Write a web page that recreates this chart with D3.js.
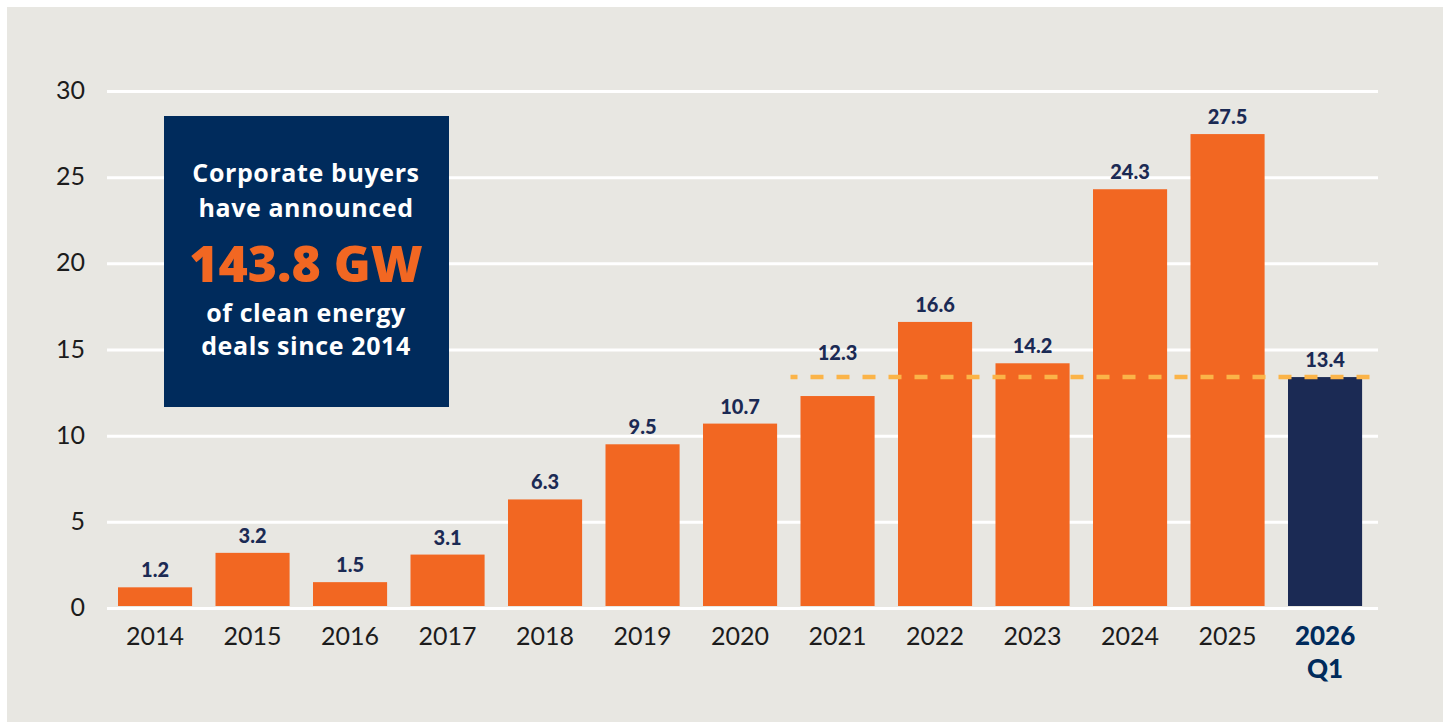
<!DOCTYPE html>
<html>
<head>
<meta charset="utf-8">
<script src="https://cdn.jsdelivr.net/npm/d3@7"></script>
<style>
  body { margin: 0; background: #ffffff; }
  .container { width: 1450px; height: 723px; }
  text { font-family: "Lato", "Open Sans", sans-serif; }
  .box-text { font-family: "Open Sans", "Lato", sans-serif; }
</style>
</head>
<body>
<div class="container"></div>
<script>
const categories = ["2014", "2015", "2016", "2017", "2018", "2019", "2020", "2021", "2022", "2023", "2024", "2025", "2026 Q1"];
const values = [1.2, 3.2, 1.5, 3.1, 6.3, 9.5, 10.7, 12.3, 16.6, 14.2, 24.3, 27.5, 13.4];
const yTicks = [0, 5, 10, 15, 20, 25, 30];
const refValue = 13.4; // dashed line level (Q1 2026)
const boxLines = ["Corporate buyers", "have announced", "143.8 GW", "of clean energy", "deals since 2014"];

const w = 1450;
const h = 723;

const orange = "#f26722";
const navy = "#1b2a54";
const boxNavy = "#002b5c";
const labelNavy = "#1b2a54";

const svg = d3.select(".container")
              .append("svg")
              .attr("width", w)
              .attr("height", h)

// panel background
svg.append("rect")
   .attr("x", 7)
   .attr("y", 7)
   .attr("width", w - 14)
   .attr("height", h - 8)
   .attr("fill", "#e8e7e2")

const xScale = d3.scaleBand()
                 .domain(categories)
                 .range([106.3, 1373.8])
                 .paddingInner(0.24)
                 .paddingOuter(0.12)

const yScale = d3.scaleLinear()
                 .domain([0, 30])
                 .range([608, 91])

// y axis + gridlines
const yAxis = d3.axisLeft(yScale)
                .tickValues(yTicks)
                .tickSizeInner(-(1378 - 107))
                .tickSizeOuter(0)
                .tickPadding(22)

const gy = svg.append("g")
              .attr("id", "y-axis")
              .attr("transform", "translate(107,0)")
              .call(yAxis)
gy.select(".domain").remove()
gy.selectAll("line")
  .attr("stroke", "#ffffff")
  .attr("stroke-width", 3)
gy.selectAll("text")
  .attr("font-size", 25)
  .attr("font-weight", 400)
  .attr("fill", "#1c1c1c")
  .attr("dy", "0.3em")

// bars
svg.selectAll(".bar")
   .data(values)
   .enter()
   .append("rect")
   .attr("class", "bar")
   .attr("x", (d, i) => xScale(categories[i]))
   .attr("y", (d) => yScale(d))
   .attr("width", xScale.bandwidth())
   .attr("height", (d) => yScale(0) - yScale(d) - 2)
   .attr("fill", (d, i) => i == categories.length - 1 ? navy : orange)

// dashed reference line
const dashY = yScale(refValue);
svg.append("line")
   .attr("x1", xScale("2021") - 10)
   .attr("x2", xScale("2026 Q1") + xScale.bandwidth() + 10)
   .attr("y1", dashY)
   .attr("y2", dashY)
   .attr("stroke", "#fbb448")
   .attr("stroke-width", 4.5)
   .attr("stroke-dasharray", "13,13")
   .attr("stroke-dashoffset", 6)

// value labels, lifted above the dashed line when they would touch it
svg.selectAll(".val")
   .data(values)
   .enter()
   .append("text")
   .attr("class", "val")
   .attr("x", (d, i) => xScale(categories[i]) + xScale.bandwidth() / 2)
   .attr("y", (d) => {
       let base = yScale(d) - 10;
       if (base > dashY - 3 && base - 16 < dashY + 3) base = dashY - 17;
       return base;
   })
   .attr("text-anchor", "middle")
   .attr("font-size", 20)
   .attr("font-weight", 900)
   .attr("fill", labelNavy)
   .text((d) => d)

// x axis
const xAxis = d3.axisBottom(xScale)
                .tickSize(0)
                .tickPadding(0)

const gx = svg.append("g")
              .attr("id", "x-axis")
              .attr("transform", "translate(0,645)")
              .call(xAxis)
gx.select(".domain").remove()
gx.selectAll("text")
  .attr("font-size", 25)
  .attr("font-weight", 400)
  .attr("fill", "#1c1c1c")
  .attr("dy", 0)
  .each(function(d, i) {
      const t = d3.select(this);
      if (d.indexOf(" ") > -1) {
          const parts = d.split(" ");
          t.text(null)
           .attr("font-weight", 900)
           .attr("font-size", 26)
           .attr("fill", boxNavy);
          parts.forEach((p, j) => {
              t.append("tspan")
               .attr("x", 0)
               .attr("dy", j == 0 ? 0 : 33)
               .text(p)
          })
      }
  })

// callout box
svg.append("rect")
   .attr("x", 164)
   .attr("y", 116)
   .attr("width", 285)
   .attr("height", 291)
   .attr("fill", boxNavy)

const lineY = [182, 217, 282, 322, 355];
svg.selectAll(".box-text")
   .data(boxLines)
   .enter()
   .append("text")
   .attr("class", "box-text")
   .attr("x", 306)
   .attr("y", (d, i) => lineY[i])
   .attr("text-anchor", "middle")
   .attr("font-weight", (d, i) => i == 2 ? 800 : 700)
   .attr("font-size", (d, i) => i == 2 ? 50 : 25)
   .attr("letter-spacing", (d, i) => i == 2 ? 0 : 0.6)
   .attr("fill", (d, i) => i == 2 ? orange : "#ffffff")
   .text((d) => d)
</script>
</body>
</html>
